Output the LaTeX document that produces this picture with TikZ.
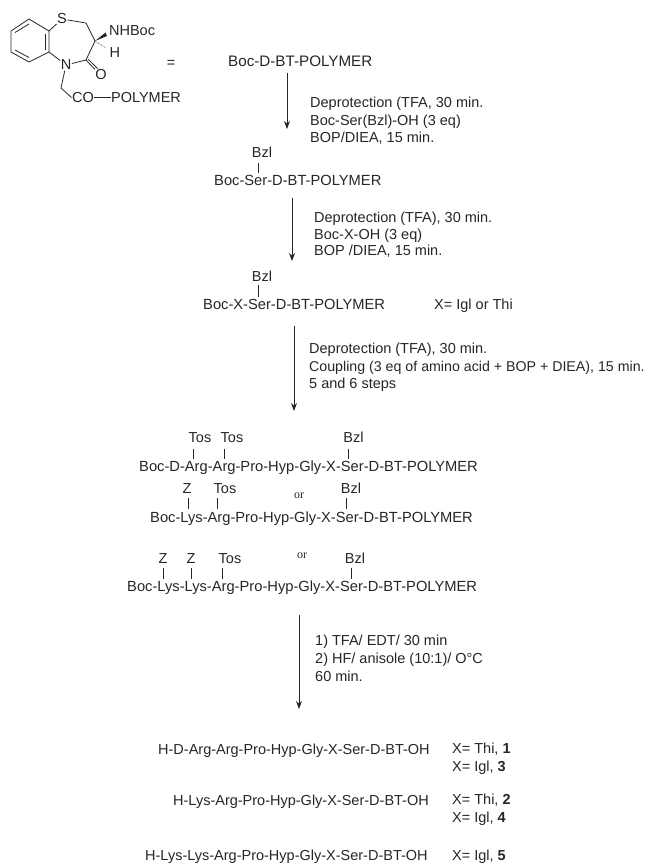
\documentclass[tikz,border=0pt]{standalone}
\usepackage{fontspec}
\setmainfont{Liberation Sans}
\newfontfamily\orfont{Liberation Serif}
\usetikzlibrary{arrows.meta,calc}
\tikzset{
  txt/.style={anchor=base west,inner sep=0pt,font=\fontsize{14.5}{16}\selectfont,text=black!85},
  chain/.style={txt,font=\fontsize{14.7}{16}\selectfont},
  wide/.style={txt,font=\fontsize{15.2}{16}\selectfont},
  narrow/.style={txt,font=\fontsize{14.2}{16}\selectfont},
  ortxt/.style={anchor=base,inner sep=0pt,font=\orfont\fontsize{12}{14}\selectfont,text=black!85},
  lbl/.style={anchor=base,inner sep=0pt,font=\fontsize{14.5}{16}\selectfont,text=black!85},
  atom/.style={inner sep=0.4pt,font=\fontsize{14.5}{16}\selectfont,text=black!85},
  bond/.style={line width=0.8pt,black!85},
  bar/.style={line width=0.8pt,black!85},
  arrowline/.style={line width=0.9pt,black!85,-{Stealth[length=8pt,width=6pt]}}
}
\begin{document}
\begin{tikzpicture}[x=1pt,y=-1pt]
\path[use as bounding box,clip] (0,0) rectangle (652,863);
% structure
\coordinate (a1) at (29,19);\coordinate (a2) at (49,31);\coordinate (a3) at (49,52);
\coordinate (a4) at (29,62);\coordinate (a5) at (11,52);\coordinate (a6) at (11,31);
\draw[bond] (a1)--(a2)--(a3)--(a4)--(a5)--(a6)--cycle;
\draw[bond] (45,33.5)--(45,49.5);
\draw[bond] (29,24)--(15,32.5);
\draw[bond] (29,57.5)--(15,50);
\node[atom] (S) at (62,19) {S};
\node[atom] (N) at (66,65) {N};
\coordinate (c1) at (86,23);\coordinate (c2) at (95,41);\coordinate (c3) at (86,60);
\coordinate (c4) at (61,88);
\node[atom,anchor=west] (nhboc) at (108.5,30.5) {NHBoc};
\node[atom,anchor=west] (h) at (109,52.5) {H};
\node[atom] (O) at (101,75) {O};
\node[atom,anchor=west] (co) at (71.5,97.5) {CO};
\node[atom,anchor=west] (poly) at (110.5,97.5) {POLYMER};
\node[atom] (eq) at (171,64) {=};
\draw[bond] (a2)--(S);
\draw[bond] (a3)--(N);
\draw[bond] (S)--(c1)--(c2)--(c3)--(N);
\draw[bond] (N)--(c4)--(co.west);
\draw[bond] (co.east)--(poly.west);
\draw[bond] (c3)--(O.north west);
\draw[bond] ($(c3)+(2.2,-0.6)$)--($(O.north west)+(3,-0.6)$);
\fill[black!85] (c2)--(105.5,32.5)--(107,36)--cycle;
\draw[line width=0.5pt,black!85,dash pattern=on 0.8pt off 1pt] (c2)--(106,48);
% steps
\node[wide] (p1) at (228,66) {Boc-D-BT-POLYMER};
\coordinate (p1b) at (287,73);\coordinate (p2t) at (287,129);
\draw[arrowline] (p1b)--(p2t);
\node[txt] at (310,107.5) {Deprotection (TFA, 30 min.};
\node[txt] at (310,125) {Boc-Ser(Bzl)-OH (3 eq)};
\node[txt] at (310,142.5) {BOP/DIEA, 15 min.};
\node[lbl] (b2) at (262,157) {Bzl};
\node[chain] (p2) at (214,185) {Boc-Ser-D-BT-POLYMER};
\coordinate (b2s) at (258,163);\coordinate (b2e) at (258,173);\draw[bar] (b2s)--(b2e);
\coordinate (p2b) at (292,198);\coordinate (p3t) at (292,261);
\draw[arrowline] (p2b)--(p3t);
\node[txt] at (314,222) {Deprotection (TFA), 30 min.};
\node[txt] at (314,239) {Boc-X-OH  (3 eq)};
\node[txt] at (314,255) {BOP /DIEA, 15 min.};
\node[lbl] (b3) at (262,281) {Bzl};
\coordinate (b3s) at (258,285);\coordinate (b3e) at (258,297);\draw[bar] (b3s)--(b3e);
\node[chain] (p3) at (203,309) {Boc-X-Ser-D-BT-POLYMER};
\node[txt] at (434,309) {X= Igl or Thi};
\coordinate (p3b) at (294,326);\coordinate (p4t) at (294,411);
\draw[arrowline] (p3b)--(p4t);
\node[txt] at (309,353) {Deprotection (TFA), 30 min.};
\node[narrow] at (309,371) {Coupling (3 eq of amino acid + BOP + DIEA), 15 min.};
\node[txt] at (309,388) {5 and 6 steps};
% chains
\node[chain] (ch1) at (139,471) {Boc-D-Arg-Arg-Pro-Hyp-Gly-X-Ser-D-BT-POLYMER};
\node[lbl] (t1) at (200,442) {Tos};
\node[lbl] (t2) at (232,442) {Tos};
\node[lbl] (z0) at (353.5,442) {Bzl};
\draw[bar] (193,449)--(193,459);\draw[bar] (224,449)--(224,459);\draw[bar] (348,449)--(348,459);
\node[chain] (ch2) at (150,522) {Boc-Lys-Arg-Pro-Hyp-Gly-X-Ser-D-BT-POLYMER};
\node[lbl] (z1) at (187,493) {Z};
\node[lbl] (t3) at (225,493) {Tos};
\node[ortxt] at (299,498) {or};
\node[lbl] (b4) at (351,493) {Bzl};
\draw[bar] (188,498)--(188,509);\draw[bar] (217,498)--(217,509);\draw[bar] (346,498)--(346,509);
\node[chain] (ch3) at (127,591) {Boc-Lys-Lys-Arg-Pro-Hyp-Gly-X-Ser-D-BT-POLYMER};
\node[lbl] (z2) at (163,563) {Z};
\node[lbl] (z3) at (191,563) {Z};
\node[lbl] (t4) at (230,563) {Tos};
\node[ortxt] at (302,558) {or};
\node[lbl] (b5) at (355,563) {Bzl};
\draw[bar] (163,568)--(163,579);\draw[bar] (191,568)--(191,579);\draw[bar] (222,568)--(222,579);\draw[bar] (351,568)--(351,579);
\coordinate (c3b) at (299,615);\coordinate (c4t) at (299,709);
\draw[arrowline] (c3b)--(c4t);
\node[txt] at (315,645) {1) TFA/ EDT/ 30 min};
\node[txt] at (315,663) {2) HF/ anisole (10:1)/ O°C};
\node[txt] at (315,681) {60 min.};
% products
\node[txt] at (158,754) {H-D-Arg-Arg-Pro-Hyp-Gly-X-Ser-D-BT-OH};
\node[txt] at (452,753) {X= Thi, \textbf{1}};
\node[txt] at (452,771) {X= Igl, \textbf{3}};
\node[txt] at (173,805) {H-Lys-Arg-Pro-Hyp-Gly-X-Ser-D-BT-OH};
\node[txt] at (452,804) {X= Thi, \textbf{2}};
\node[txt] at (452,822) {X= Igl, \textbf{4}};
\node[txt] at (145,860.5) {H-Lys-Lys-Arg-Pro-Hyp-Gly-X-Ser-D-BT-OH};
\node[txt] at (452,860.5) {X= Igl, \textbf{5}};
\end{tikzpicture}
\end{document}
